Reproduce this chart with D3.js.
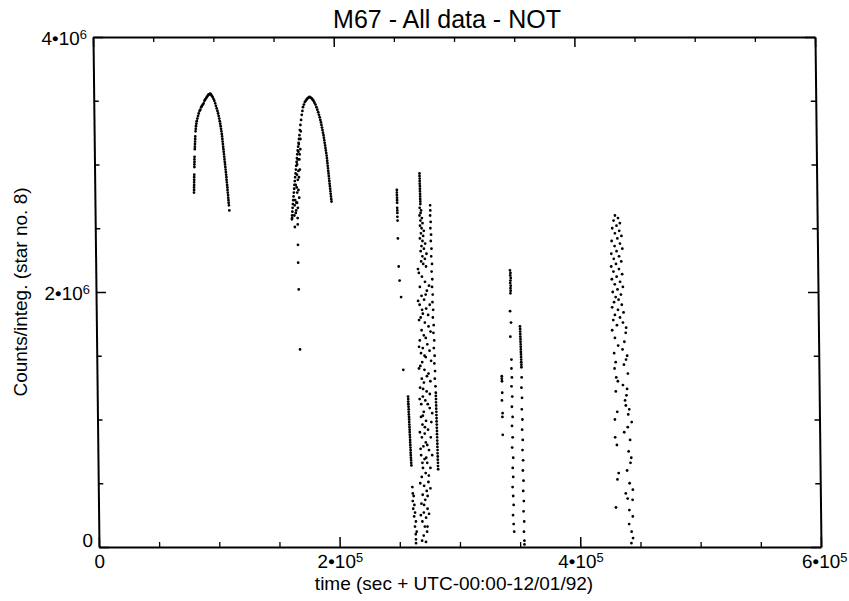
<!DOCTYPE html>
<html>
<head>
<meta charset="utf-8">
<script src="https://cdn.jsdelivr.net/npm/d3@7"></script>
<style>
  body { margin: 0; background: #fff; }
  text { font-family: "Liberation Sans", Arial, Helvetica, sans-serif; fill: #000; }
</style>
</head>
<body>
<svg id="chart" width="849" height="601"></svg>
<script>
// Star no. 8 in M67, NOT runs. Each point: [time in ks after UTC 00:00 12/01/92, counts per integration in millions]
const night1 = [
  [82.4,2.78],[82.5,2.80],[82.5,2.82],[82.6,2.84],[82.6,2.86],[82.7,2.88],[82.7,2.90],[82.8,2.92],
  [83.0,2.98],[83.0,3.00],[83.1,3.02],[83.1,3.04],[83.2,3.06],
  [83.5,3.12],[83.6,3.14],[83.7,3.16],[83.8,3.18],[83.9,3.20],[84.0,3.22],
  [84.3,3.26],[84.5,3.28],[84.7,3.30],[85.0,3.32],[85.4,3.34],[85.9,3.36],[86.5,3.38],[87.1,3.40],
  [87.8,3.42],[88.5,3.43],[89.2,3.45],[89.9,3.46],[90.6,3.47],[91.3,3.48],[92.0,3.50],[92.7,3.51],
  [93.4,3.52],[94.1,3.53],[94.8,3.54],[95.5,3.55],[96.2,3.55],[96.8,3.555],[97.4,3.55],
  [98.1,3.54],[98.8,3.53],[99.5,3.515],[100.2,3.50],[100.9,3.48],[101.5,3.46],[102.1,3.44],
  [102.7,3.42],[103.2,3.40],[103.7,3.38],[104.1,3.36],[104.5,3.34],[104.9,3.32],[105.2,3.30],
  [105.5,3.28],[105.8,3.26],[106.1,3.24],[106.3,3.22],[106.5,3.20],[106.7,3.18],[106.9,3.16],
  [107.1,3.14],[107.3,3.12],[107.5,3.10],[107.7,3.08],[107.9,3.06],[108.1,3.04],[108.3,3.02],
  [108.5,3.00],[108.7,2.98],[108.9,2.96],[109.1,2.94],[109.3,2.92],[109.5,2.90],[109.6,2.88],
  [109.8,2.86],[110.0,2.84],[110.2,2.82],[110.3,2.80],[110.5,2.78],[110.7,2.76],[110.8,2.74],
  [111.0,2.72],[111.1,2.70],[111.3,2.68],[111.6,2.64]
];

const night2 = [
  [163.5,2.57],[163.7,2.60],[164.0,2.63],[164.2,2.66],[164.5,2.69],[164.8,2.72],[165.1,2.75],
  [165.4,2.78],[165.7,2.81],[166.0,2.84],[166.3,2.87],[166.6,2.90],[167.0,2.93],[167.3,2.96],
  [167.6,2.99],[168.0,3.02],[168.3,3.05],[168.6,3.08],[169.0,3.11],[169.4,3.14],[169.8,3.17],
  [170.2,3.20],[170.6,3.23],[171.0,3.27],[171.5,3.31],[172.1,3.35],[172.7,3.39],[173.3,3.42],
  [166.8,2.62],[167.4,2.70],[168.2,2.78],[167.0,2.84],[168.8,2.88],[169.4,2.95],[168.4,3.00],
  [170.3,3.04],[169.6,3.10],[171.2,3.12],[166.0,2.68],[168.6,2.66],[169.8,2.74],[170.6,2.96],
  [165.6,2.60],[167.2,2.64],[166.4,2.72],[168.0,2.70],[167.8,2.82],[169.2,2.80],[168.2,2.92],
  [169.8,2.90],[169.0,3.04],[170.6,3.08],[170.0,3.16],[171.4,3.20],[171.8,3.26],
  [173.8,3.45],[174.6,3.47],[175.4,3.49],[176.2,3.50],[177.0,3.51],[177.8,3.52],[178.6,3.525],
  [179.4,3.53],[180.2,3.525],[181.0,3.52],[181.8,3.51],[182.6,3.50],[183.4,3.485],[184.2,3.47],
  [185.0,3.45],[185.7,3.43],[186.4,3.41],[187.0,3.39],[187.6,3.37],[188.1,3.35],[188.6,3.33],
  [189.0,3.31],[189.4,3.29],[189.8,3.27],[190.2,3.25],[190.6,3.23],[190.9,3.21],[191.2,3.19],
  [191.5,3.17],[191.8,3.15],[192.1,3.13],[192.4,3.11],[192.7,3.09],[193.0,3.07],[193.2,3.05],
  [193.4,3.03],[193.6,3.01],[193.8,2.99],[194.0,2.97],[194.2,2.95],[194.4,2.93],[194.6,2.91],
  [194.8,2.89],[195.0,2.87],[195.2,2.85],[195.4,2.83],[195.6,2.81],[195.8,2.79],[196.0,2.77],
  [196.2,2.75],[196.4,2.73],[196.6,2.71],
  [163.7,2.58],[168.3,2.58],[165.9,2.51],[168.3,2.53],[168.3,2.37],[168.3,2.23],[168.5,2.02],[169.0,1.55]
];

const night3 = [
  [251.0,2.80],[251.0,2.78],[251.0,2.76],[251.1,2.74],[251.1,2.72],[251.1,2.70],[251.1,2.66],
  [251.2,2.64],[251.2,2.62],[251.2,2.59],[251.3,2.56],[251.4,2.42],[251.8,2.20],[252.4,2.09],
  [253.5,1.96],[254.6,1.39],
  [258.3,1.18],[258.4,1.16],[258.4,1.14],[258.5,1.12],[258.6,1.10],[258.7,1.08],[258.7,1.06],
  [258.8,1.04],[258.9,1.02],[259.0,1.00],[259.0,0.98],[259.1,0.96],[259.2,0.94],[259.3,0.92],
  [259.3,0.90],[259.4,0.88],[259.5,0.86],[259.6,0.84],[259.6,0.82],[259.7,0.80],[259.8,0.78],
  [259.9,0.76],[259.9,0.74],[260.0,0.72],[260.1,0.70],[260.2,0.68],[260.3,0.66],[260.4,0.64],
  [261.0,0.47],[261.3,0.42],[262.0,0.40],[261.2,0.36],[262.5,0.33],[261.5,0.30],[263.0,0.27],
  [262.2,0.24],[263.6,0.20],[262.8,0.16],[264.2,0.12],[263.4,0.10],[263.5,0.06],[263.5,0.03],
  [270.0,2.93],[270.0,2.91],[270.1,2.89],[270.1,2.87],[270.1,2.85],[270.2,2.83],[270.2,2.81],
  [270.2,2.79],[270.3,2.77],[270.3,2.75],[270.3,2.73],[270.4,2.71],[270.4,2.69],[269.8,2.66],
  [271.0,2.64],[270.5,2.62],[269.6,2.60],[271.5,2.58],[270.3,2.56],[272.0,2.54],[269.9,2.52],
  [271.2,2.50],[273.0,2.48],[270.6,2.46],[272.4,2.44],[269.7,2.42],[271.8,2.40],[274.0,2.38],
  [270.9,2.36],[272.9,2.34],[270.2,2.32],[275.0,2.30],[271.6,2.28],[273.6,2.26],[270.5,2.24],
  [272.2,2.22],[274.5,2.20],
  [278.5,2.68],[278.6,2.64],[278.4,2.60],[278.8,2.55],[278.5,2.50],[279.0,2.45],[278.7,2.40],
  [279.2,2.34],[278.9,2.28],[279.5,2.22],[279.1,2.16],[279.6,2.10],[279.3,2.04],[279.8,1.98],
  [279.5,1.92],[280.0,1.86],[279.7,1.80],[280.3,1.74],[280.0,1.68],[280.6,1.62],[280.2,1.56],
  [280.8,1.50],[280.5,1.44],[281.0,1.38],[280.7,1.32],[281.2,1.26],
  [281.4,1.21],[281.4,1.185],[281.5,1.16],[281.5,1.135],[281.6,1.11],[281.6,1.085],[281.7,1.06],
  [281.7,1.035],[281.8,1.01],[281.8,0.985],[281.9,0.96],[281.9,0.935],[282.0,0.91],[282.0,0.885],
  [282.1,0.86],[282.1,0.835],[282.2,0.81],[282.2,0.785],[282.3,0.76],[282.3,0.735],[282.4,0.71],
  [282.4,0.685],[282.5,0.66],[282.5,0.635],[282.6,0.61],
  [268.5,2.15],[271.0,2.12],[273.5,2.08],[269.2,2.04],[275.0,2.01],[270.5,1.97],[272.6,1.94],
  [268.8,1.90],[274.2,1.87],[271.4,1.83],[269.6,1.80],[273.0,1.76],[276.0,1.73],[270.2,1.70],
  [272.0,1.66],[268.6,1.62],[274.8,1.59],[271.0,1.56],[269.5,1.52],[273.4,1.49],[270.4,1.45],
  [268.8,1.42],[272.2,1.39],[275.5,1.36],[269.9,1.32],[271.6,1.29],[268.4,1.25],[273.8,1.22],
  [270.6,1.18],[272.6,1.15],[269.2,1.12],[276.2,1.09],[271.2,1.06],[268.9,1.02],[273.0,0.99],
  [270.0,0.96],[274.6,0.92],[271.8,0.89],[269.4,0.86],[272.6,0.82],[270.6,0.79],[275.2,0.76],
  [268.6,0.72],[271.4,0.69],[273.6,0.66],[270.0,0.62],[272.2,0.58],[268.9,0.55],[274.4,0.51],
  [270.8,0.48],[272.9,0.44],[269.5,0.41],[271.6,0.37],[268.4,0.34],[273.4,0.30],[270.3,0.27],
  [272.1,0.23],[269.0,0.20],[271.0,0.16],[272.8,0.12],[270.0,0.09],
  [267.8,2.18],[276.8,2.05],[273.9,1.98],[267.6,1.93],[277.2,1.90],[270.8,1.86],[275.8,1.82],
  [268.2,1.78],[277.6,1.69],[273.6,1.64],[267.9,1.57],[276.6,1.54],[272.4,1.50],[277.8,1.46],
  [267.7,1.40],[274.2,1.34],[277.0,1.30],[270.9,1.24],[276.4,1.20],[267.9,1.16],[274.6,1.12],
  [278.2,1.05],[270.4,1.03],[277.4,0.98],[272.0,0.94],[267.8,0.90],[276.8,0.86],[273.8,0.80],
  [268.2,0.77],[277.8,0.72],[272.8,0.70],[269.6,0.66],[276.2,0.62],[274.8,0.56],[267.6,0.50],
  [276.0,0.46],[273.6,0.40],[270.6,0.33],[274.6,0.26],[267.8,0.25],[273.2,0.16],[268.6,0.05],
  [271.8,0.04]
];

const night4 = [
  [336.4,1.34],[336.4,1.32],[336.5,1.30],[336.6,1.21],[336.3,1.15],[336.7,1.05],[336.5,1.02],[336.6,0.88],
  [344.2,2.17],[344.6,2.15],[344.4,2.13],[344.8,2.11],[344.5,2.09],[344.3,2.07],[344.7,2.05],
  [344.5,2.03],[344.6,2.01],[344.4,1.99],[343.9,1.85],[344.6,1.76],[343.9,1.65],[344.6,1.47],
  [344.5,1.40],[344.8,1.33],[344.4,1.26],[344.9,1.18],[344.5,1.10],[345.0,1.02],[344.4,0.95],
  [344.8,0.86],[344.3,0.78],[345.1,0.70],[344.6,0.62],[344.9,0.55],[344.3,0.47],[344.7,0.40],
  [345.0,0.33],[344.4,0.25],[344.8,0.18],[345.2,0.12],
  [352.0,1.73],[352.1,1.71],[352.1,1.69],[352.2,1.67],[352.2,1.65],[352.3,1.63],[352.3,1.61],
  [352.4,1.59],[352.4,1.57],[352.5,1.55],[352.5,1.53],[352.6,1.51],[352.6,1.49],[352.7,1.47],
  [352.7,1.45],[352.8,1.43],[352.8,1.41],[352.9,1.33],[352.6,1.25],[353.0,1.17],[352.7,1.08],
  [353.1,1.00],[352.8,0.92],[353.2,0.84],[352.9,0.76],[353.3,0.68],[353.0,0.60],[353.4,0.52],
  [353.1,0.44],[353.5,0.36],[353.2,0.28],[353.6,0.20],[353.3,0.12],[353.6,0.05],[353.6,0.02]
];

const night5 = [
  [432.0,2.60],[434.5,2.58],[430.8,2.56],[436.0,2.54],[433.2,2.52],[429.6,2.50],[435.4,2.48],
  [431.8,2.46],[437.2,2.44],[433.8,2.42],[429.0,2.40],[435.9,2.38],[431.4,2.36],[437.8,2.34],
  [433.0,2.32],[428.6,2.30],[435.0,2.28],[430.6,2.26],[436.8,2.24],[432.4,2.22],[428.4,2.20],
  [434.8,2.18],[430.2,2.16],[437.4,2.14],[432.8,2.12],[428.8,2.10],[435.6,2.08],[431.2,2.06],
  [437.9,2.04],[433.4,2.02],[429.4,2.00],[436.2,1.98],[431.8,1.96],[434.2,1.94],
  [430.4,1.92],[436.8,1.90],[428.8,1.88],[433.6,1.86],[438.2,1.84],[431.0,1.82],[435.2,1.80],
  [429.6,1.78],[437.6,1.76],[432.6,1.74],[440.2,1.72],[430.8,1.64],[438.6,1.61],[433.4,1.58],
  [440.8,1.50],[431.2,1.45],[438.0,1.43],[441.2,1.36],[432.8,1.30],[440.4,1.24],[431.0,1.22],
  [438.6,1.15],[442.0,1.08],[432.0,1.06],[440.6,0.94],[437.6,0.90],[442.4,0.84],[431.4,0.80],
  [443.2,0.70],[439.6,0.60],[432.6,0.58],[441.6,0.50],[444.2,0.45],[440.8,0.18],[442.8,0.12],
  [428.6,1.70],[439.8,1.68],[437.0,1.55],[430.0,1.52],[439.8,1.47],[430.2,1.40],[431.5,1.33],
  [437.0,1.27],[439.8,1.19],[439.2,1.11],[441.1,1.04],[430.0,1.00],[443.9,0.98],[430.0,0.86],
  [441.1,0.75],[442.5,0.66],[431.5,0.53],[438.3,0.42],[439.8,0.38],[430.0,0.31],[443.9,0.37],
  [441.1,0.29],[443.9,0.24],[443.9,0.07],[442.5,0.03]
];

const xMajorTicks = [0, 2e5, 4e5, 6e5];
const yMajorTicks = [0, 2e6, 4e6];
const xMinorTicks = [5e4, 1e5, 1.5e5, 2.5e5, 3e5, 3.5e5, 4.5e5, 5e5, 5.5e5];
const yMinorTicks = [5e5, 1e6, 1.5e6, 2.5e6, 3e6, 3.5e6];

const titleText = "M67 - All data - NOT";
const xTitle = "time (sec + UTC-00:00-12/01/92)";
const yTitle = "Counts/integ. (star no. 8)";

const svg = d3.select("#chart");
const frameLeft = 99, frameRight = 821, frameTop = 37, frameBottom = 547;

const x = d3.scaleLinear().domain([0, 6e5]).range([frameLeft, frameRight]);
const y = d3.scaleLinear().domain([0, 4e6]).range([frameBottom, frameTop]);

// the plotted page is slightly sheared; the box leans left towards the top
const plot = svg.append("g")
  .attr("transform", `translate(0,${frameBottom}) skewX(0.674) translate(0,${-frameBottom})`);

function sciLabel(sel) {
  sel.each(function(d) {
    const t = d3.select(this);
    t.text(null);
    if (d === 0) { t.text("0"); return; }
    const e = Math.floor(Math.log10(d));
    const m = Math.round(d / Math.pow(10, e));
    t.append("tspan").text(m + "\u202210");
    t.append("tspan").attr("dy", "-0.5em").attr("font-size", "13px").text(e);
  });
}

function styleAxis(g, w) {
  g.select(".domain").attr("stroke", "#000").attr("stroke-width", 2);
  g.selectAll(".tick line").attr("stroke", "#000").attr("stroke-width", w);
}
function minorStyle(g) {
  g.select(".domain").remove();
  g.selectAll(".tick line").attr("stroke", "#000").attr("stroke-width", 1.3);
}

// minor ticks on all four sides
plot.append("g").attr("transform", `translate(0,${frameBottom})`)
  .call(d3.axisBottom(x).tickValues(xMinorTicks).tickSize(-5).tickFormat("")).call(minorStyle);
plot.append("g").attr("transform", `translate(0,${frameTop})`)
  .call(d3.axisTop(x).tickValues(xMinorTicks).tickSize(-5).tickFormat("")).call(minorStyle);
plot.append("g").attr("transform", `translate(${frameLeft},0)`)
  .call(d3.axisLeft(y).tickValues(yMinorTicks).tickSize(-5).tickFormat("")).call(minorStyle);
plot.append("g").attr("transform", `translate(${frameRight},0)`)
  .call(d3.axisRight(y).tickValues(yMinorTicks).tickSize(-5).tickFormat("")).call(minorStyle);

// major ticks and frame
const xb = plot.append("g").attr("transform", `translate(0,${frameBottom})`)
  .call(d3.axisBottom(x).tickValues(xMajorTicks).tickSize(-10).tickSizeOuter(0).tickPadding(8))
  .call(g => styleAxis(g, 1.5));
xb.selectAll(".tick text").attr("font-size", "19px").attr("dy", "0.71em").call(sciLabel)
  .attr("dx", d => d === 6e5 ? 3 : 0);

plot.append("g").attr("transform", `translate(0,${frameTop})`)
  .call(d3.axisTop(x).tickValues(xMajorTicks).tickSize(-10).tickSizeOuter(0).tickFormat(""))
  .call(g => styleAxis(g, 1.5));

const yl = plot.append("g").attr("transform", `translate(${frameLeft},0)`)
  .call(d3.axisLeft(y).tickValues(yMajorTicks).tickSize(-10).tickSizeOuter(0).tickPadding(6))
  .call(g => styleAxis(g, 1.5));
yl.selectAll(".tick text").attr("font-size", "19px").call(sciLabel)
  .attr("dy", d => d === 0 ? "-0.05em" : "0.42em");

plot.append("g").attr("transform", `translate(${frameRight},0)`)
  .call(d3.axisRight(y).tickValues(yMajorTicks).tickSize(-10).tickSizeOuter(0).tickFormat(""))
  .call(g => styleAxis(g, 1.5));

// observations
const points = [...night1, ...night2, ...night3, ...night4, ...night5];
plot.append("g").selectAll("circle").data(points).join("circle")
  .attr("cx", d => x(d[0] * 1e3))
  .attr("cy", d => y(d[1] * 1e6))
  .attr("r", 1.4)
  .attr("fill", "#000");

// titles
svg.append("text").attr("x", 447).attr("y", 28).attr("text-anchor", "middle")
  .attr("font-size", "25px").text(titleText);
svg.append("text").attr("x", 454).attr("y", 590).attr("text-anchor", "middle")
  .attr("font-size", "19px").text(xTitle);
svg.append("text").attr("transform", "translate(27,292) rotate(-90)").attr("text-anchor", "middle")
  .attr("font-size", "19px").text(yTitle);
</script>
</body>
</html>
